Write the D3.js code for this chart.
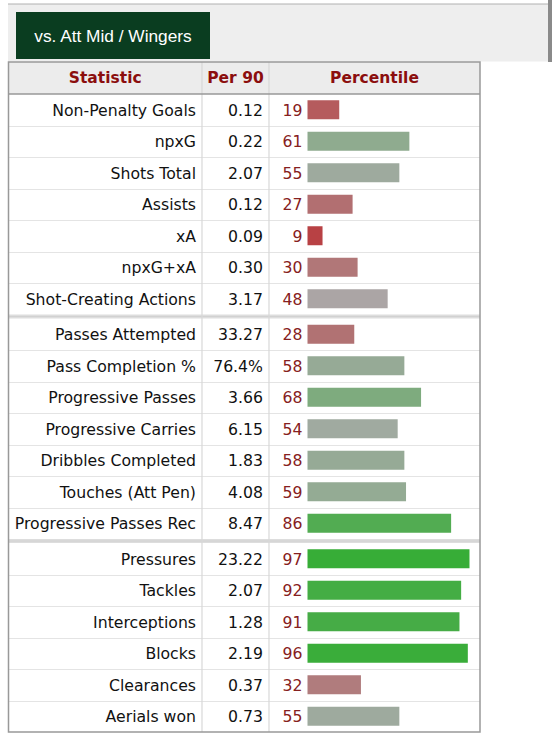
<!DOCTYPE html>
<html>
<head>
<meta charset="utf-8">
<script src="https://cdn.jsdelivr.net/npm/d3@7"></script>
<style>
  body { margin: 0; background: #fff; }
</style>
</head>
<body>
<script>
// scouting report table, per 90 + percentile bars

const w = 558;
const h = 750;

const tabLabel = "vs. Att Mid / Wingers";
const headers = ["Statistic", "Per 90", "Percentile"];

const stats = [
    "Non-Penalty Goals", "npxG", "Shots Total", "Assists", "xA", "npxG+xA", "Shot-Creating Actions",
    "Passes Attempted", "Pass Completion %", "Progressive Passes", "Progressive Carries",
    "Dribbles Completed", "Touches (Att Pen)", "Progressive Passes Rec",
    "Pressures", "Tackles", "Interceptions", "Blocks", "Clearances", "Aerials won"
];
const per90 = [
    "0.12", "0.22", "2.07", "0.12", "0.09", "0.30", "3.17",
    "33.27", "76.4%", "3.66", "6.15", "1.83", "4.08", "8.47",
    "23.22", "2.07", "1.28", "2.19", "0.37", "0.73"
];
const percentiles = [
    19, 61, 55, 27, 9, 30, 48,
    28, 58, 68, 54, 58, 59, 86,
    97, 92, 91, 96, 32, 55
];
const groups = [
    0, 0, 0, 0, 0, 0, 0,
    1, 1, 1, 1, 1, 1, 1,
    2, 2, 2, 2, 2, 2
];

// layout
const tblL = 8.5, tblR = 480, tblT = 62;
const headH = 32, rowH = 31.5, sepH = 4;
const col1 = 202, col2 = 269;
const barX = 307.5;

const font = "'DejaVu Sans', Verdana, sans-serif";

let svg = d3.select("body")
    .append("svg")
    .attr("width", w)
    .attr("height", h)

// top panel with tab button
svg.append("rect")
    .attr("x", 8).attr("y", 4)
    .attr("width", 542).attr("height", 57.5)
    .attr("fill", "#eeeeee")
svg.append("line")
    .attr("x1", 8).attr("x2", 550)
    .attr("y1", 4).attr("y2", 4)
    .attr("stroke", "#b0b0b0").attr("stroke-width", 1)
svg.append("rect")
    .attr("x", 548).attr("y", 0)
    .attr("width", 4).attr("height", 62)
    .attr("fill", "#8a8a8a")

svg.append("rect")
    .attr("x", 16).attr("y", 12)
    .attr("width", 194).attr("height", 47)
    .attr("fill", "#0a3d20")
svg.append("text")
    .attr("x", 113).attr("y", 36)
    .attr("dy", "0.35em")
    .attr("text-anchor", "middle")
    .attr("fill", "#ffffff")
    .style("font-family", "'Liberation Sans', Arial, sans-serif")
    .style("font-size", "17.3px")
    .text(tabLabel)

// row positions
const nGroups = d3.max(groups) + 1;
const yTop = (i) => tblT + headH + i * rowH + groups[i] * sepH;
const tblB = yTop(stats.length - 1) + rowH;

const x = d3.scaleLinear().domain([0, 100]).range([0, 167]);
const color = d3.scaleLinear()
    .domain([0, 50, 100])
    .range(["#bb2a2e", "#aaaaaa", "#30ad30"]);

// table bg
svg.append("rect")
    .attr("x", tblL).attr("y", tblT)
    .attr("width", tblR - tblL).attr("height", tblB - tblT)
    .attr("fill", "#ffffff")
svg.append("rect")
    .attr("x", tblL).attr("y", tblT)
    .attr("width", tblR - tblL).attr("height", headH)
    .attr("fill", "#ececec")

// dotted row lines
const rowLines = d3.range(stats.length - 1).filter(i => groups[i] == groups[i + 1]);
svg.append("g")
    .selectAll("line")
    .data(rowLines)
    .enter()
    .append("line")
    .attr("x1", tblL).attr("x2", tblR)
    .attr("y1", i => Math.round(yTop(i) + rowH) + 0.5)
    .attr("y2", i => Math.round(yTop(i) + rowH) + 0.5)
    .attr("stroke", "#c8c8c8")
    .attr("stroke-width", 1)
    .attr("stroke-dasharray", "1,1")

// group separators
const seps = d3.range(1, nGroups).map(g => groups.indexOf(g));
svg.append("g")
    .selectAll("rect")
    .data(seps)
    .enter()
    .append("rect")
    .attr("x", tblL).attr("width", tblR - tblL)
    .attr("y", i => yTop(i) - sepH)
    .attr("height", sepH)
    .attr("fill", "#dddddd")
svg.append("g")
    .selectAll("line")
    .data(seps)
    .enter()
    .append("line")
    .attr("x1", tblL).attr("x2", tblR)
    .attr("y1", i => yTop(i) - sepH / 2)
    .attr("y2", i => yTop(i) - sepH / 2)
    .attr("stroke", "#c4c4c4")
    .attr("stroke-dasharray", "1,1")

// column lines
svg.append("g")
    .selectAll("line")
    .data([col1, col2])
    .enter()
    .append("line")
    .attr("x1", d => d).attr("x2", d => d)
    .attr("y1", tblT).attr("y2", tblB)
    .attr("stroke", "#d8d8d8")
    .attr("stroke-width", 1.2)

// header line + outer border
svg.append("line")
    .attr("x1", tblL).attr("x2", tblR)
    .attr("y1", tblT + headH).attr("y2", tblT + headH)
    .attr("stroke", "#999999").attr("stroke-width", 1.5)
svg.append("rect")
    .attr("x", tblL).attr("y", tblT)
    .attr("width", tblR - tblL).attr("height", tblB - tblT)
    .attr("fill", "none")
    .attr("stroke", "#999999").attr("stroke-width", 1.5)

// headers
const headX = [(tblL + col1) / 2, (col1 + col2) / 2, (col2 + tblR) / 2];
svg.append("g")
    .selectAll("text")
    .data(headers)
    .enter()
    .append("text")
    .attr("x", (d, i) => headX[i])
    .attr("y", tblT + headH / 2)
    .attr("dy", "0.35em")
    .attr("text-anchor", "middle")
    .attr("fill", "#8b0e0e")
    .style("font-family", font)
    .style("font-weight", "bold")
    .style("font-size", "15.5px")
    .text(d => d)

// rows
const rows = svg.append("g")
    .selectAll("g")
    .data(stats.map((s, i) => ({ stat: s, val: per90[i], pct: percentiles[i], i: i })))
    .enter()
    .append("g")
    .attr("transform", d => "translate(0," + (yTop(d.i) + rowH / 2) + ")")

rows.append("text")
    .attr("x", col1 - 6)
    .attr("dy", "0.38em")
    .attr("text-anchor", "end")
    .attr("fill", "#111")
    .style("font-family", font)
    .style("font-size", "15.7px")
    .text(d => d.stat)

rows.append("text")
    .attr("x", col2 - 6)
    .attr("dy", "0.38em")
    .attr("text-anchor", "end")
    .attr("fill", "#111")
    .style("font-family", font)
    .style("font-size", "15.7px")
    .text(d => d.val)

rows.append("text")
    .attr("x", barX - 5)
    .attr("dy", "0.38em")
    .attr("text-anchor", "end")
    .attr("fill", "#862020")
    .style("font-family", font)
    .style("font-size", "15.7px")
    .text(d => d.pct)

rows.append("rect")
    .attr("x", barX)
    .attr("y", -9.5)
    .attr("height", 19)
    .attr("width", d => x(d.pct))
    .attr("fill", d => color(d.pct))
</script>
</body>
</html>
